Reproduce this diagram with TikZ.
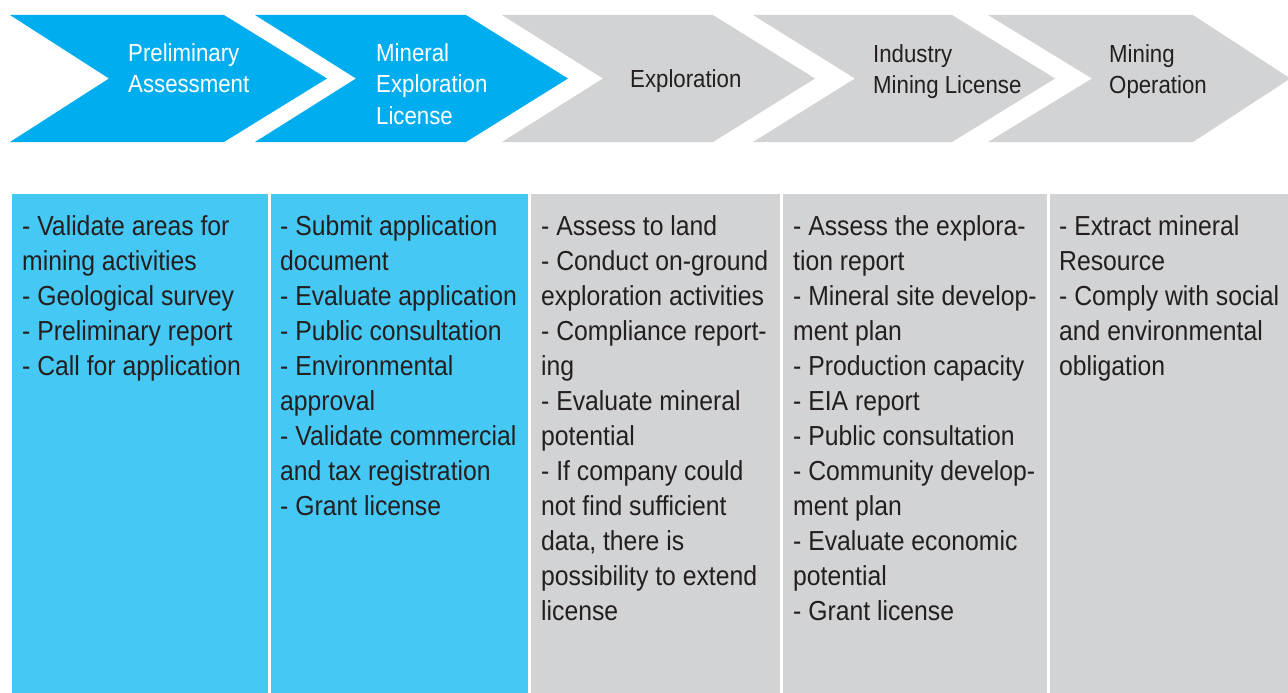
\documentclass[tikz,border=0pt]{standalone}
\usepackage{fontspec}
\setmainfont{Liberation Sans}[FakeStretch=0.9]
\definecolor{chevblue}{HTML}{00AEEF}
\definecolor{colblue}{HTML}{45C8F4}
\definecolor{lgrey}{HTML}{D1D3D4}
\definecolor{ink}{HTML}{231F20}
\newcommand\colstrut{\rule{0pt}{21pt}}
\newcommand\chevstrut{\rule{0pt}{19pt}}
\tikzset{
  coltext/.style={anchor=north west, inner sep=0pt, align=left, text=ink,
    font=\fontsize{27.5}{35}\selectfont},
  chevtext/.style={anchor=north west, inner sep=0pt, align=left,
    font=\fontsize{24.7}{31.5}\selectfont},
  bluechev/.style={fill=chevblue, draw=none},
  greychev/.style={fill=lgrey, draw=none},
  bluecol/.style={fill=colblue, draw=none},
  greycol/.style={fill=lgrey, draw=none}
}
\begin{document}
\begin{tikzpicture}[x=1pt,y=-1pt]
\useasboundingbox[fill=white] (0,0) rectangle (1288,693);
% chevrons
\path[bluechev] (10,15) -- (224,15) -- (327,78.5) -- (224,142) -- (10,142) -- (109,78.5) -- cycle;
\path[bluechev] (255,15) -- (466,15) -- (568,78.5) -- (466,142) -- (255,142) -- (356,78.5) -- cycle;
\path[greychev] (502,15) -- (713,15) -- (815,78.5) -- (713,142) -- (502,142) -- (603,78.5) -- cycle;
\path[greychev] (753,15) -- (952,15) -- (1055,78.5) -- (952,142) -- (753,142) -- (855,78.5) -- cycle;
\path[greychev] (988,15) -- (1193,15) -- (1288,77) -- (1288,80) -- (1193,142) -- (988,142) -- (1092,78.5) -- cycle;
% chevron labels
\node[chevtext, text=white] (h1) at (128,42) {\chevstrut Preliminary\\Assessment};
\node[chevtext, text=white] (h2) at (376,42) {\chevstrut Mineral\\Exploration\\License};
\node[chevtext, text=ink] (h3) at (630,68) {\chevstrut Exploration};
\node[chevtext, text=ink] (h4) at (873,43) {\chevstrut Industry\\Mining License};
\node[chevtext, text=ink] (h5) at (1109,43) {\chevstrut Mining\\Operation};
% columns
\path[bluecol] (12,194) rectangle (268,693);
\path[bluecol] (271,194) rectangle (528,693);
\path[greycol] (531,194) rectangle (780,693);
\path[greycol] (783,194) rectangle (1047,693);
\path[greycol] (1050,194) rectangle (1288,693);
% column texts
\node[coltext] (c1) at (22,214) {\colstrut - Validate areas for\\mining activities\\- Geological survey\\- Preliminary report\\- Call for application};
\node[coltext] (c2) at (280,214) {\colstrut - Submit application\\document\\- Evaluate application\\- Public consultation\\- Environmental\\approval\\- Validate commercial\\and tax registration\\- Grant license};
\node[coltext] (c3) at (541,214) {\colstrut - Assess to land\\- Conduct on-ground\\exploration activities\\- Compliance report-\\ing\\- Evaluate mineral\\potential\\- If company could\\not find sufficient\\data, there is\\possibility to extend\\license};
\node[coltext] (c4) at (793,214) {\colstrut - Assess the explora-\\tion report\\- Mineral site develop-\\ment plan\\- Production capacity\\- EIA report\\- Public consultation\\- Community develop-\\ment plan\\- Evaluate economic\\potential\\- Grant license};
\node[coltext] (c5) at (1059,214) {\colstrut - Extract mineral\\Resource\\- Comply with social\\and environmental\\obligation};
\end{tikzpicture}
\end{document}
